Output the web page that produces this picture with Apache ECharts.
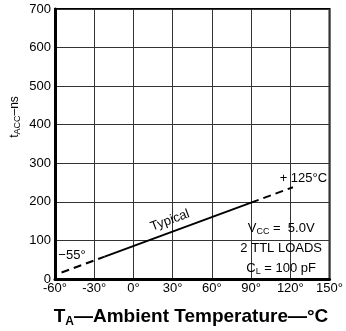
<!DOCTYPE html>
<html>
<head>
<meta charset="utf-8">
<script src="https://cdn.jsdelivr.net/npm/echarts@6/dist/echarts.min.js"></script>
<style>
  html, body { margin: 0; padding: 0; background: #fff; }
  #chart { width: 346px; height: 331px; }
</style>
</head>
<body>
<div id="chart"></div>
<script>
// access time vs ambient temperature
var lowTemp = [-55, -22];
var lowAcc = [17, 58];
var midTemp = [-22, 90];
var midAcc = [58, 198];
var highTemp = [90, 122];
var highAcc = [198, 238];

var xTicks = [-60, -30, 0, 30, 60, 90, 120, 150];
var yTicks = [0, 100, 200, 300, 400, 500, 600, 700];

var FONT = 'Liberation Sans';

function pairs(xs, ys) {
    return xs.map(function (x, i) { return [x, ys[i]]; });
}

var option = {
    backgroundColor: '#fff',
    animation: false,
    grid: {
        left: 55, right: 14, top: 9, bottom: 52,
        show: true,
        borderColor: '#000',
        borderWidth: 2
    },
    xAxis: {
        type: 'value',
        min: xTicks[0],
        max: xTicks[xTicks.length - 1],
        interval: 30,
        axisLine: { onZero: false, lineStyle: { color: '#000', width: 3 } },
        axisTick: { show: false },
        splitLine: { lineStyle: { color: '#333', width: 1 } },
        axisLabel: {
            color: '#000', fontFamily: FONT, fontSize: 13, margin: 3,
            formatter: function (v) { return v + '°'; }
        }
    },
    yAxis: {
        type: 'value',
        min: yTicks[0],
        max: yTicks[yTicks.length - 1],
        interval: 100,
        axisLine: { onZero: false, lineStyle: { color: '#000', width: 3 } },
        axisTick: { show: false },
        splitLine: { lineStyle: { color: '#333', width: 1 } },
        axisLabel: { color: '#000', fontFamily: FONT, fontSize: 13, margin: 4 }
    },
    series: [
        {
            type: 'line', data: pairs(lowTemp, lowAcc), symbol: 'none',
            lineStyle: { color: '#000', width: 2, type: [8, 5] }
        },
        {
            type: 'line', data: pairs(midTemp, midAcc), symbol: 'none',
            lineStyle: { color: '#000', width: 2 }
        },
        {
            type: 'line', data: pairs(highTemp, highAcc), symbol: 'none',
            lineStyle: { color: '#000', width: 2, type: [8, 5] }
        }
    ]
};

var myChart = echarts.init(document.getElementById('chart'));
myChart.setOption(option);

// text notes placed in data space
function at(x, y) {
    return myChart.convertToPixel({ gridIndex: 0 }, [x, y]);
}
var baseText = { fill: '#000', fontFamily: FONT, fontSize: 13 };
function note(x, y, rich, extra) {
    var p = at(x, y);
    var el = {
        type: 'text', x: p[0], y: p[1],
        style: Object.assign({}, baseText, rich, { align: 'center', verticalAlign: 'middle' })
    };
    return Object.assign(el, extra || {});
}
var sub = { fontSize: 9, padding: [6, 0, 0, 0], fontFamily: FONT };
var reg = { fontSize: 13, fontFamily: FONT };
var subY = { fontSize: 9, padding: [5, 0, 0, 0], fontFamily: FONT };
var regY = { fontSize: 12, fontFamily: FONT };

myChart.setOption({
    graphic: [
        note(-47, 60, { text: '\u221255°' }),
        note(28, 152, { text: 'Typical' }, { rotation: 20.5 * Math.PI / 180 }),
        note(130, 260, { text: '+ 125°C' }),
        note(113, 132, { text: '{r|V}{s|CC}{r| =  5.0V}', rich: { r: reg, s: sub } }),
        note(113, 80, { text: '2 TTL LOADS' }),
        note(113, 28, { text: '{r|C}{s|L}{r| = 100 pF}', rich: { r: reg, s: sub } }),
        {
            type: 'text', x: 15, y: 117, rotation: Math.PI / 2,
            style: {
                text: '{r|t}{s|ACC}{r|\u2013ns}', align: 'center', verticalAlign: 'middle',
                rich: { r: regY, s: subY }
            }
        },
        {
            type: 'text', x: 191, y: 317,
            style: {
                text: '{r|T}{s|A}{r|\u2014Ambient Temperature\u2014°C}', align: 'center', verticalAlign: 'middle',
                rich: {
                    r: { fontSize: 19, fontWeight: 'bold', fontFamily: FONT },
                    s: { fontSize: 12, fontWeight: 'bold', fontFamily: FONT, padding: [9, 0, 0, 0] }
                }
            }
        }
    ]
});
</script>
</body>
</html>
